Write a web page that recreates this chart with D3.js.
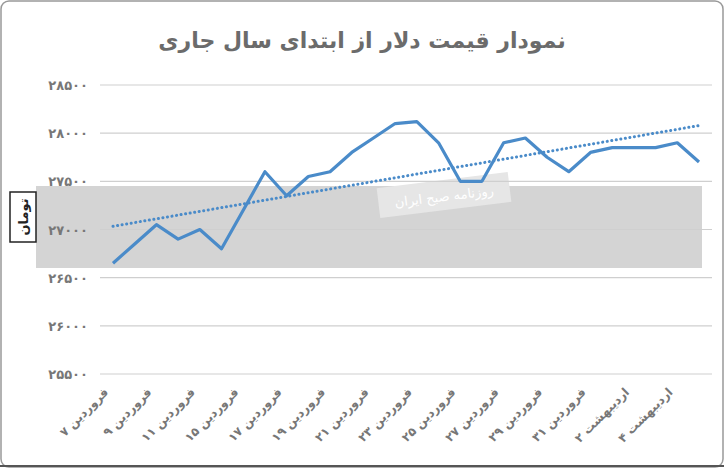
<!DOCTYPE html>
<html><head><meta charset="utf-8">
<script src="https://cdn.jsdelivr.net/npm/d3@7"></script>
<style>body{margin:0;background:#fff}svg{display:block}</style>
</head><body>
<svg id="c" width="724" height="469"></svg>
<script>
const categories = ["فروردین ۷","","فروردین ۹","","فروردین ۱۱","","فروردین ۱۵","","فروردین ۱۷","","فروردین ۱۹","","فروردین ۲۱","","فروردین ۲۳","","فروردین ۲۵","","فروردین ۲۷","","فروردین ۲۹","","فروردین ۳۱","","اردیبهشت ۲","","اردیبهشت ۴",""];
const prices = [26650,26850,27050,26900,27000,26800,27200,27600,27350,27550,27600,27800,27950,28100,28120,27900,27500,27500,27900,27950,27750,27600,27800,27850,27850,27850,27900,27700];
const yTicks = [25500,26000,26500,27000,27500,28000,28500];
const yTickLabels = ["۲۵۵۰۰","۲۶۰۰۰","۲۶۵۰۰","۲۷۰۰۰","۲۷۵۰۰","۲۸۰۰۰","۲۸۵۰۰"];
const title = "نمودار قیمت دلار از ابتدای سال جاری";
const yTitle = "تومان";

const svg = d3.select("#c");
const F = "DejaVu Sans, sans-serif";
svg.append("rect").attr("x",1).attr("y",1).attr("width",722).attr("height",466).attr("rx",8)
  .attr("fill","#fff").attr("stroke","#999").attr("stroke-width",1.5);

const x = d3.scalePoint().domain(d3.range(prices.length)).range([113,699]);
const y = d3.scaleLinear().domain([25500,28500]).range([374,85]);

// watermark band
svg.append("rect").attr("x",36).attr("y",186).attr("width",666).attr("height",82).attr("fill","#d4d4d4");
svg.append("rect").attr("x",378).attr("y",180).attr("width",132).attr("height",30).attr("fill","#e6e6e6")
  .attr("transform","rotate(-7,444,195)");
svg.append("text").attr("x",444).attr("y",201).attr("text-anchor","middle").attr("font-family",F)
  .attr("font-size",13).attr("fill","#fff").attr("transform","rotate(-7,444,195)").text("روزنامه صبح ایران");

// grid
svg.append("g").selectAll("line").data(yTicks).join("line")
  .attr("x1",100).attr("x2",712).attr("y1",d=>y(d)).attr("y2",d=>y(d))
  .attr("stroke","#cfcfcf").attr("stroke-width",1.2);
svg.append("g").selectAll("text").data(yTicks).join("text")
  .attr("x",88).attr("y",d=>y(d)+5).attr("text-anchor","end").attr("font-family",F)
  .attr("font-weight","bold").attr("font-size",13).attr("fill","#777")
  .text((d,i)=>yTickLabels[i]);

// trend line (least squares)
const n = prices.length, xs = d3.range(n);
const mx = d3.mean(xs), my = d3.mean(prices);
const b = d3.sum(xs,i=>(i-mx)*(prices[i]-my))/d3.sum(xs,i=>(i-mx)**2);
const a = my - b*mx;
svg.append("line").attr("x1",x(0)).attr("x2",x(n-1)).attr("y1",y(a)).attr("y2",y(a+b*(n-1)))
  .attr("stroke","#4a8bc9").attr("stroke-width",3).attr("stroke-dasharray","0.1 4.5").attr("stroke-linecap","round");

svg.append("path").datum(prices)
  .attr("d",d3.line().x((d,i)=>x(i)).y(d=>y(d)))
  .attr("fill","none").attr("stroke","#4a8bc9").attr("stroke-width",3.2).attr("stroke-linejoin","round");

// x labels
svg.append("g").selectAll("text").data(categories).join("text")
  .attr("transform",(d,i)=>`translate(${x(i)-4},393) rotate(-45)`)
  .attr("text-anchor","end").attr("font-family",F).attr("font-weight","bold")
  .attr("font-size",12).attr("fill","#777").text(d=>d?"\u202B"+d+"\u202C":"");

// title
svg.append("text").attr("x",362).attr("y",48).attr("text-anchor","middle").attr("font-family",F)
  .attr("font-weight","bold").attr("font-size",22).attr("fill","#6b6b6b").text(title);

// y title
svg.append("rect").attr("x",10).attr("y",192).attr("width",26).attr("height",50).attr("fill","#fff").attr("stroke","#222").attr("stroke-width",1.5);
svg.append("text").attr("transform","translate(28,217) rotate(-90)").attr("text-anchor","middle")
  .attr("font-family",F).attr("font-weight","bold").attr("font-size",13).attr("fill","#222").text(yTitle);

svg.append("line").attr("x1",0).attr("x2",724).attr("y1",466).attr("y2",466).attr("stroke","#555").attr("stroke-width",2);
</script>
</body></html>
